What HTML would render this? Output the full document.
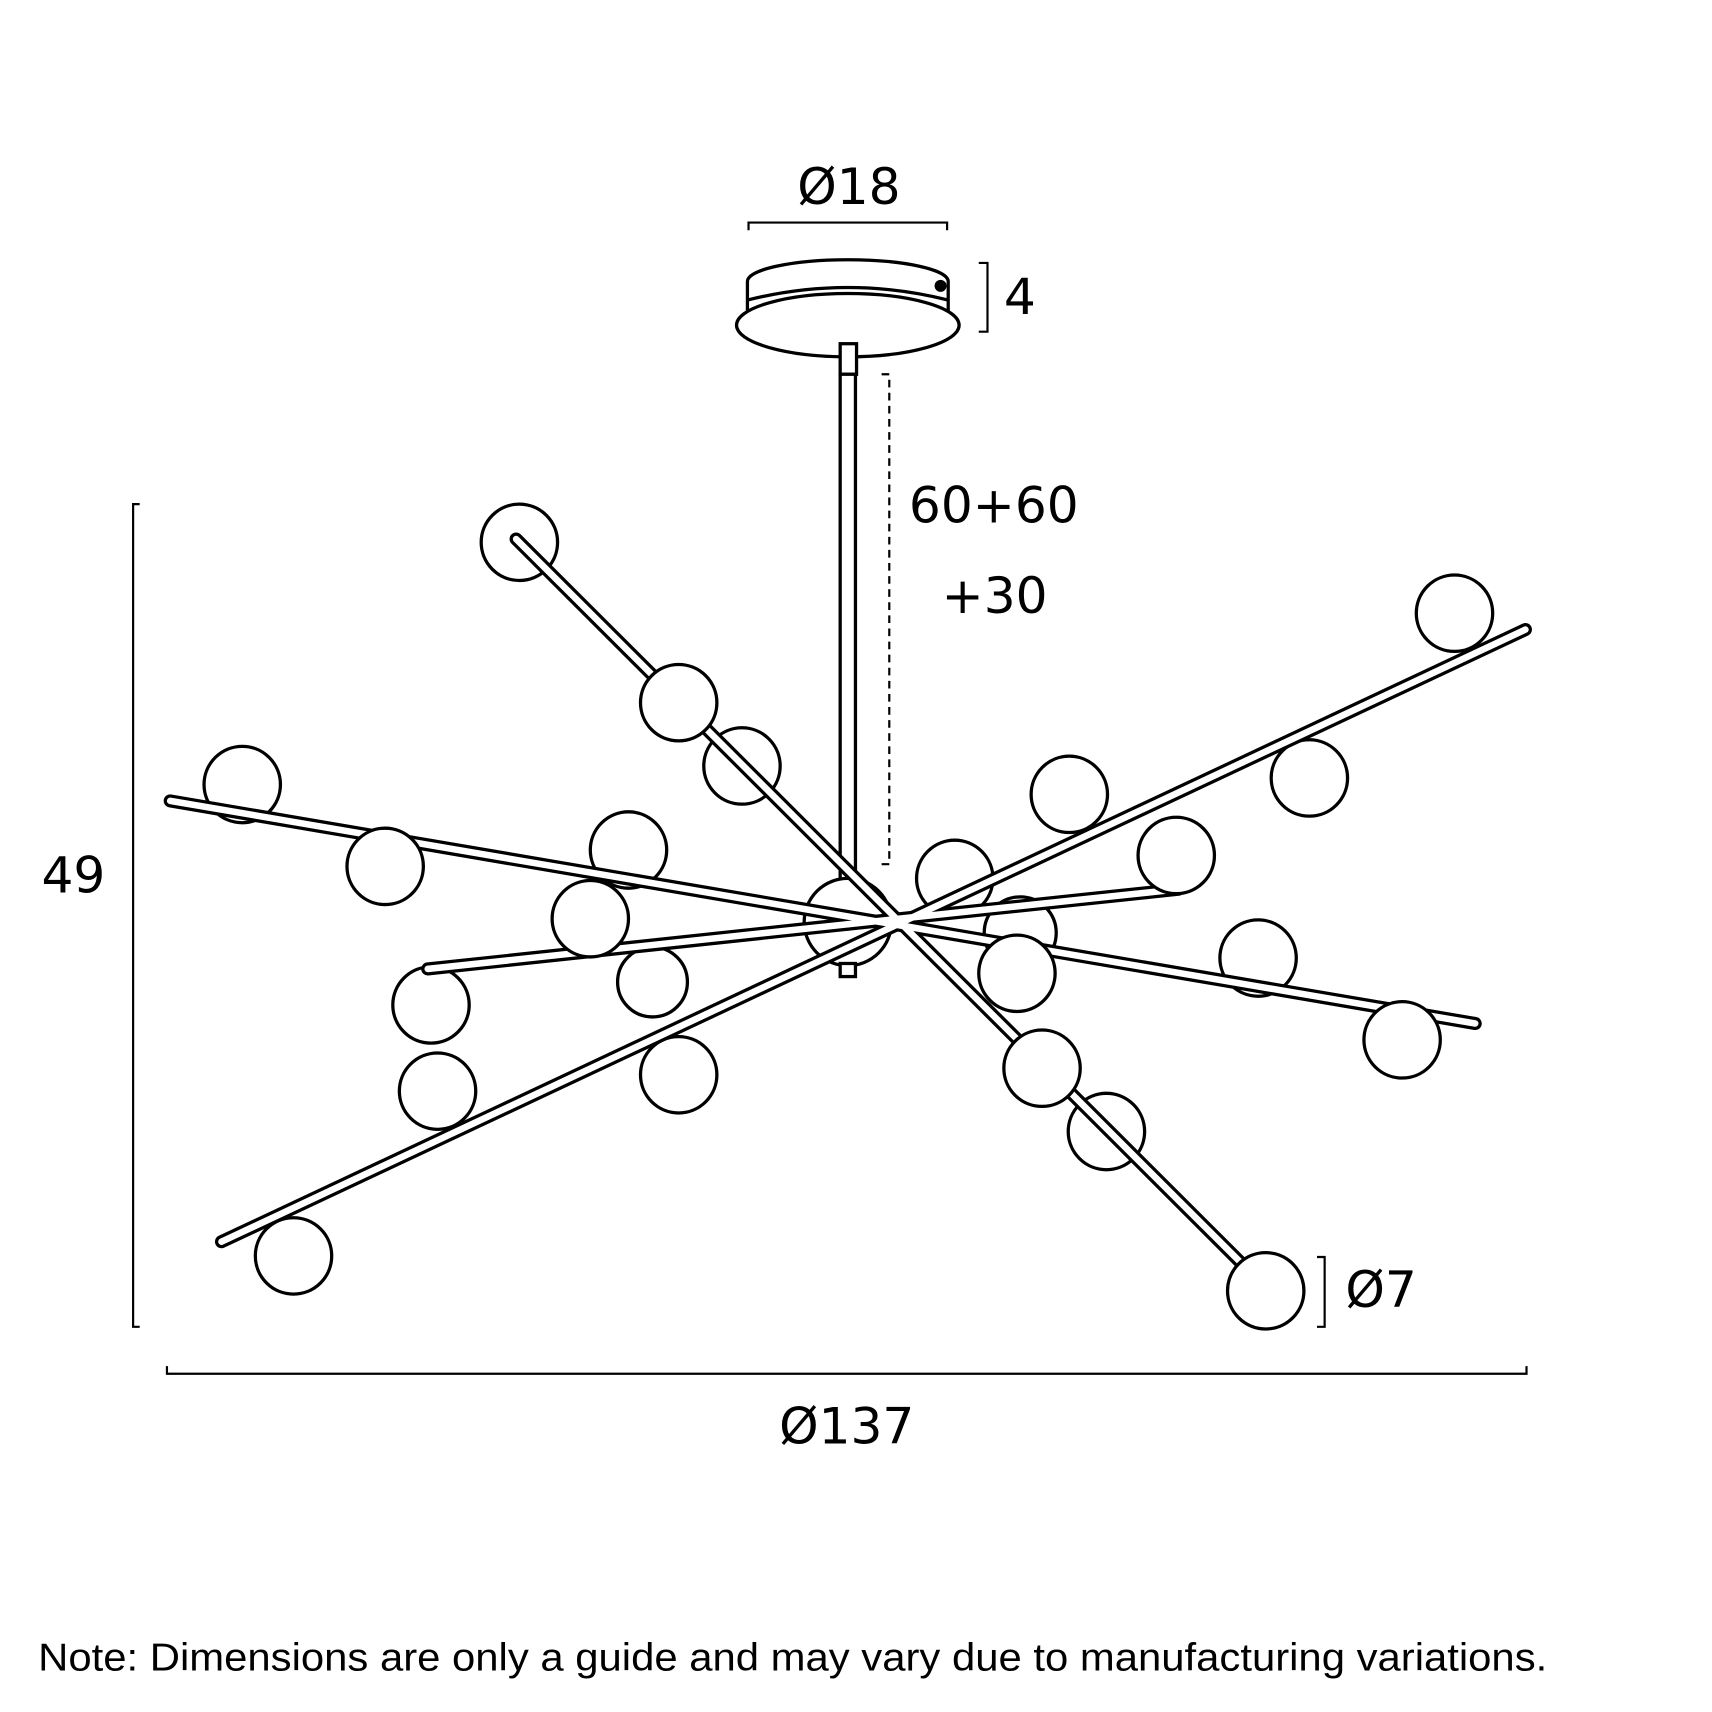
<!DOCTYPE html>
<html><head><meta charset="utf-8"><style>html,body{margin:0;padding:0;background:#fff}svg{display:block}</style></head>
<body>
<svg width="1712" height="1712" viewBox="0 0 1569 1569" xmlns="http://www.w3.org/2000/svg">
<rect width="1569" height="1569" fill="#fff"/>
<g font-family="'DejaVu Sans','Liberation Sans',sans-serif" font-size="46" fill="#000">
<text x="778" y="187" text-anchor="middle">Ø18</text>
<text x="920" y="288">4</text>
<text x="833" y="479">60+60</text>
<text x="863" y="562">+30</text>
<text x="38" y="818">49</text>
<text x="776" y="1323" text-anchor="middle">Ø137</text>
<text x="1233" y="1198">Ø7</text>
</g>
<text x="35" y="1531" font-family="'Liberation Sans Narrow','Liberation Sans',sans-serif" font-size="36" textLength="1383" lengthAdjust="spacingAndGlyphs">Note: Dimensions are only a guide and may vary due to manufacturing variations.</text>
<g fill="none" stroke="#000" stroke-width="2">
<path d="M686 211V204H868V211"/>
<path d="M897 241H905V304H897"/>
<path d="M128 462H122V1216H128"/>
<path d="M153 1252V1259H1399V1252"/>
<path d="M1207 1152H1214V1216H1207"/>
<path d="M808 343H815V792H808" stroke-dasharray="7 5"/>
</g>
<g stroke="#000" stroke-width="3" fill="#fff">
<path d="M685 285V258A92 20 0 0 1 869 258V285Z"/>
<path d="M685 275Q777 252 869 275"/>
<ellipse cx="777" cy="298" rx="102" ry="29"/>
<circle cx="862" cy="262" r="4" fill="#000"/>
<rect x="770" y="315" width="15" height="28"/>
<rect x="770" y="343" width="14" height="470"/>
</g>
<g stroke="#000" stroke-width="3" fill="#fff">
<circle cx="476" cy="497" r="35"/>
<circle cx="680" cy="702" r="35"/>
<circle cx="222" cy="719" r="35"/>
<circle cx="576" cy="779" r="35"/>
<circle cx="395" cy="921" r="35"/>
<circle cx="598" cy="900" r="32"/>
<circle cx="622" cy="985" r="35"/>
<circle cx="980" cy="728" r="35"/>
<circle cx="1200" cy="713" r="35"/>
<circle cx="1333" cy="562" r="35"/>
<circle cx="875" cy="805" r="35"/>
<circle cx="935" cy="855" r="33"/>
<circle cx="1153" cy="878" r="35"/>
<circle cx="1014" cy="1037" r="35"/>
<circle cx="777" cy="845" r="40"/>
<rect x="770" y="883" width="14" height="12"/>
</g>
<g stroke-linecap="round">
<g stroke="#000" stroke-width="12">
<line x1="473" y1="494" x2="1140" y2="1160"/>
<line x1="156" y1="734" x2="1352" y2="938"/>
<line x1="203" y1="1138" x2="1398" y2="577"/>
<line x1="392" y1="888" x2="777" y2="847"/>
<line x1="777" y1="847" x2="1080" y2="815"/>
</g>
<g stroke="#fff" stroke-width="6">
<line x1="473" y1="494" x2="1140" y2="1160"/>
<line x1="156" y1="734" x2="1352" y2="938"/>
<line x1="203" y1="1138" x2="1398" y2="577"/>
<line x1="392" y1="888" x2="777" y2="847"/>
<line x1="777" y1="847" x2="1080" y2="815"/>
</g>
</g>
<g stroke="#000" stroke-width="3" fill="#fff">
<circle cx="622" cy="644" r="35"/>
<circle cx="353" cy="794" r="35"/>
<circle cx="541" cy="842" r="35"/>
<circle cx="401" cy="1000" r="35"/>
<circle cx="269" cy="1151" r="35"/>
<circle cx="1078" cy="784" r="35"/>
<circle cx="932" cy="892" r="35"/>
<circle cx="955" cy="979" r="35"/>
<circle cx="1285" cy="953" r="35"/>
<circle cx="1160" cy="1183" r="35"/>
</g>
</svg>
</body></html>
